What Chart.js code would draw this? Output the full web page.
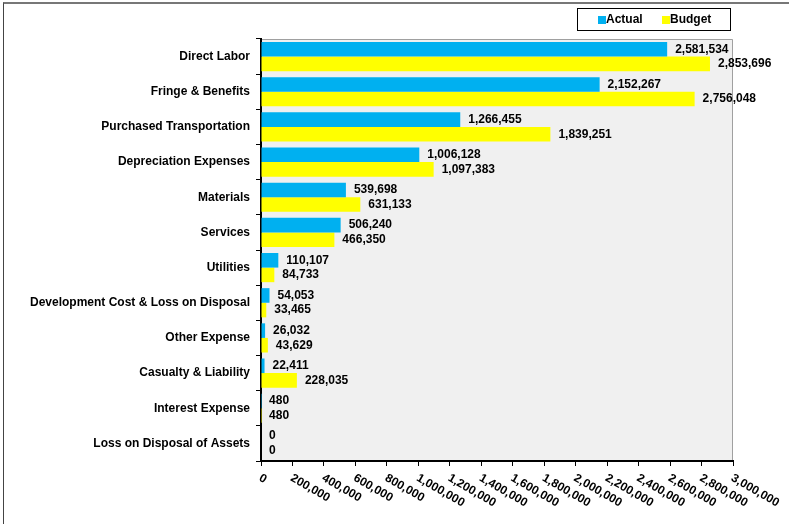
<!DOCTYPE html>
<html>
<head>
<meta charset="utf-8">
<script src="https://cdn.jsdelivr.net/npm/chart.js@4"></script>
<style>
  body { margin: 0; background: #fff; }
  #wrap { position: relative; width: 789px; height: 524px; }
  #frame { position: absolute; left: 3px; top: 2px; right: 0; bottom: 0; border-top: 2px solid #777; border-left: 1px solid #444; pointer-events: none; }
</style>
</head>
<body>
<div id="wrap">
  <canvas id="myChart" width="789" height="524"></canvas>
  <div id="frame"></div>
</div>
<script>
var categories = ['Direct Labor', 'Fringe & Benefits', 'Purchased Transportation', 'Depreciation Expenses',
    'Materials', 'Services', 'Utilities', 'Development Cost & Loss on Disposal', 'Other Expense',
    'Casualty & Liability', 'Interest Expense', 'Loss on Disposal of Assets'];
var actual = [2581534, 2152267, 1266455, 1006128, 539698, 506240, 110107, 54053, 26032, 22411, 480, 0];
var budget = [2853696, 2756048, 1839251, 1097383, 631133, 466350, 84733, 33465, 43629, 228035, 480, 0];
var xTicks = [0, 200000, 400000, 600000, 800000, 1000000, 1200000, 1400000, 1600000, 1800000,
    2000000, 2200000, 2400000, 2600000, 2800000, 3000000];

var FONT = '"Liberation Sans", Arial, sans-serif';
var fmt = function (v) { return v.toLocaleString('en-US'); };

// gray plot background + gray top/right border
var plotBg = {
    id: 'plotBg',
    beforeDraw: function (chart) {
        var a = chart.chartArea, c = chart.ctx;
        c.save();
        c.fillStyle = '#F0F0F0';
        c.fillRect(a.left, a.top, a.right - a.left, a.bottom - a.top);
        c.strokeStyle = '#A0A0A0';
        c.lineWidth = 1;
        c.beginPath();
        c.moveTo(a.left, a.top + 0.5);
        c.lineTo(a.right - 0.5, a.top + 0.5);
        c.lineTo(a.right - 0.5, a.bottom);
        c.stroke();
        c.restore();
    }
};

// value labels, rotated x tick labels, legend box
var extras = {
    id: 'extras',
    afterDraw: function (chart) {
        var c = chart.ctx;
        c.save();
        c.font = 'bold 12px ' + FONT;
        c.fillStyle = '#000';
        c.textBaseline = 'middle';
        c.textAlign = 'left';
        chart.data.datasets.forEach(function (ds, i) {
            chart.getDatasetMeta(i).data.forEach(function (bar, j) {
                c.fillText(fmt(ds.data[j]), bar.x + 8, bar.y);
            });
        });

        var xs = chart.scales.x;
        c.textBaseline = 'top';
        xTicks.forEach(function (v) {
            var px = xs.getPixelForValue(v);
            c.save();
            c.translate(px + 2, xs.top + 11);
            c.rotate(30 * Math.PI / 180);
            c.fillText(fmt(v), 0, 0);
            c.restore();
        });

        // legend
        c.strokeStyle = '#000';
        c.lineWidth = 1;
        c.strokeRect(577.5, 8.5, 153, 22);
        c.textBaseline = 'middle';
        c.fillStyle = '#00B0F0';
        c.fillRect(598, 16, 8, 8);
        c.fillStyle = '#FFFF00';
        c.fillRect(662, 16, 8, 8);
        c.fillStyle = '#000';
        c.fillText('Actual', 606, 20);
        c.fillText('Budget', 670, 20);
        c.restore();
    }
};

var ctx = document.getElementById('myChart').getContext('2d');
var chart = new Chart(ctx, {
    type: 'bar',
    data: {
        labels: categories,
        datasets: [{
            label: 'Actual',
            backgroundColor: '#00B0F0',
            data: actual
        }, {
            label: 'Budget',
            backgroundColor: '#FFFF00',
            data: budget
        }]
    },
    options: {
        indexAxis: 'y',
        responsive: false,
        animation: false,
        layout: { padding: { left: 0, right: 56, top: 39, bottom: 0 } },
        datasets: { bar: { categoryPercentage: 0.83, barPercentage: 1.0 } },
        plugins: { legend: { display: false }, tooltip: { enabled: false } },
        scales: {
            x: {
                min: 0,
                max: 3000000,
                afterBuildTicks: function (s) { s.ticks = xTicks.map(function (v) { return { value: v }; }); },
                afterFit: function (s) { s.height = 63; },
                ticks: { display: false },
                grid: { drawOnChartArea: false, drawTicks: true, tickLength: 5, color: '#000' },
                border: { color: '#000', width: 2 }
            },
            y: {
                afterFit: function (s) { s.width = 261; },
                ticks: { color: '#000', padding: 6, font: { family: FONT, size: 12, weight: 'bold' } },
                grid: { offset: true, drawOnChartArea: false, drawTicks: true, tickLength: 5, color: '#000' },
                border: { color: '#000', width: 2 }
            }
        }
    },
    plugins: [plotBg, extras]
});
</script>
</body>
</html>
